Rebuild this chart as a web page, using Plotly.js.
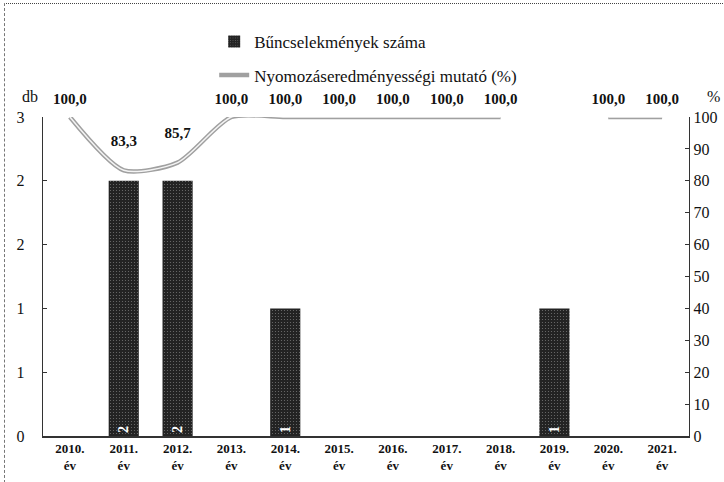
<!DOCTYPE html>
<html><head><meta charset="utf-8">
<script src="https://cdn.plot.ly/plotly-3.0.1.min.js"></script>
<style>html,body{margin:0;padding:0;background:#fff}#c{width:724px;height:482px}
#f{position:absolute;left:4px;top:3px;width:720px;height:479px;border-top:1.5px dotted #444;border-left:1px dashed #777;pointer-events:none}</style>
</head><body><div id="c"></div><div id="f"></div>
<script>
const years = ['2010.<br>év','2011.<br>év','2012.<br>év','2013.<br>év','2014.<br>év','2015.<br>év','2016.<br>év','2017.<br>év','2018.<br>év','2019.<br>év','2020.<br>év','2021.<br>év'];
const crimes = [0,2,2,0,1,0,0,0,0,1,0,0];
const rate = [100,83.3,85.7,100,100,100,100,100,100,null,100,100];
const leftTickVals = [0,0.5,1,1.5,2,2.5];
const leftTickText = ['0','1','1','2','2','3'];
const rightTickVals = [0,10,20,30,40,50,60,70,80,90,100];

const serif = '"Liberation Serif", "Times New Roman", Times, "DejaVu Serif", serif';
const fmt = v => v == null ? '' : v.toFixed(1).replace('.', ',');
// invisible marker sizes only used to space the value labels above the line
const labelGap = rate.map(v => v != null && v < 99 ? 32 : 14);

const traces = [
  {type:'bar', x:years, y:crimes, name:'Bűncselekmények száma', yaxis:'y',
   marker:{color:'#262626', line:{width:0},
     pattern:{shape:'.', fgcolor:'#707070', bgcolor:'#232323', size:3, solidity:0.12}},
   text:crimes.map(v => v ? String(v) : ''), textposition:'inside', insidetextanchor:'start',
   textangle:-90, textfont:{family:serif, size:14, color:'#fff', weight:'bold'},
   legend:'legend', hoverinfo:'skip'},
  {type:'scatter', mode:'lines+markers+text', x:years, y:rate, yaxis:'y2', connectgaps:false,
   name:'Nyomozáseredményességi mutató (%)',
   line:{color:'#a0a0a0', width:4.5, shape:'spline', smoothing:0.7},
   marker:{size:labelGap, color:'rgba(0,0,0,0)', line:{width:0}},
   text:rate.map(fmt), textposition:'top center',
   textfont:{family:serif, size:15, color:'#111', weight:'bold'},
   legend:'legend2', cliponaxis:false},
  {type:'scatter', mode:'lines', x:years, y:rate, yaxis:'y2', connectgaps:false,
   line:{color:'#f4f4f4', width:1.5, shape:'spline', smoothing:0.7}, showlegend:false, hoverinfo:'skip'}
];

const layout = {
  width:724, height:482, margin:{l:43, r:35, t:117, b:46},
  paper_bgcolor:'#fff', plot_bgcolor:'#fff', bargap:0.44,
  font:{family:serif, color:'#111'},
  xaxis:{type:'category', range:[-0.5, years.length - 0.5], showline:true, linecolor:'#333', linewidth:1.5, ticks:'',
    tickfont:{family:serif, size:13, color:'#111', weight:'bold'}, fixedrange:true},
  yaxis:{range:[0,2.5], tickvals:leftTickVals, ticktext:leftTickText, showgrid:false, zeroline:false,
    showline:true, linecolor:'#333', linewidth:1.2, ticks:'inside', ticklen:4, tickcolor:'#333',
    tickfont:{family:serif, size:16, color:'#111'}, ticklabelstandoff:14},
  yaxis2:{range:[0,100], overlaying:'y', side:'right', tickvals:rightTickVals, showgrid:false, zeroline:false,
    showline:true, linecolor:'#333', linewidth:1.2, ticks:'inside', ticklen:4, tickcolor:'#333',
    tickfont:{family:serif, size:16, color:'#111'}},
  legend:{x:0.265, y:1.235, xanchor:'left', yanchor:'middle', bgcolor:'rgba(0,0,0,0)',
    font:{family:serif, size:17, color:'#111'}, itemwidth:30},
  legend2:{x:0.265, y:1.13, xanchor:'left', yanchor:'middle', bgcolor:'rgba(0,0,0,0)',
    font:{family:serif, size:17, color:'#111'}, itemwidth:30},
  annotations:[
    {text:'db', xref:'paper', yref:'paper', x:-0.005, y:1.03, xanchor:'right', yanchor:'bottom', showarrow:false,
     font:{family:serif, size:16, color:'#111'}},
    {text:'%', xref:'paper', yref:'paper', x:1.025, y:1.03, xanchor:'left', yanchor:'bottom', showarrow:false,
     font:{family:serif, size:16, color:'#111'}}
  ],
  showlegend:true
};
Plotly.newPlot('c', traces, layout, {displayModeBar:false, staticPlot:true});
</script></body></html>
